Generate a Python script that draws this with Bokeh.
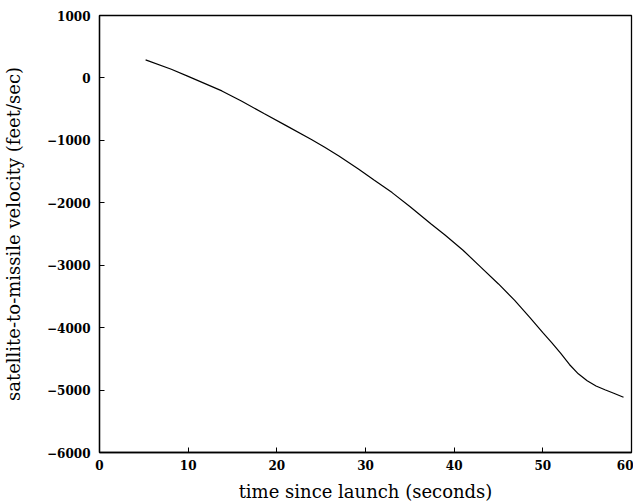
from bokeh.plotting import figure
from bokeh.models import Range1d, FixedTicker
from bokeh.embed import file_html
from bokeh.resources import INLINE

time_s = [5.2, 8.1, 10, 13.8, 16, 18.6, 21, 23.9, 25.4, 27, 29.2, 31, 33, 35, 37.4, 39, 41,
          43, 45, 46.8, 48.5, 50, 51, 52, 53, 54, 55, 56, 57, 58, 59.1]
velocity = [290, 139, 25, -208, -370, -575, -760, -985, -1110, -1250, -1458, -1640, -1837,
            -2060, -2339, -2520, -2760, -3030, -3300, -3560, -3830, -4080, -4240, -4410,
            -4590, -4740, -4850, -4935, -4995, -5050, -5115]
x_ticks = [0, 10, 20, 30, 40, 50, 60]
y_ticks = [1000, 0, -1000, -2000, -3000, -4000, -5000, -6000]

p = figure(frame_width=532, frame_height=437, output_backend="svg", toolbar_location=None,
           x_range=Range1d(0, 60), y_range=Range1d(-6000, 1000),
           min_border_left=98, min_border_top=15, min_border_right=2, min_border_bottom=48)
p.background_fill_color = "white"
p.border_fill_color = "white"
p.outline_line_color = "black"
p.outline_line_width = 1.3
p.grid.visible = False

p.line(time_s, velocity, line_color="black", line_width=1.2)

for ax, ticks in ((p.xaxis[0], x_ticks), (p.yaxis[0], y_ticks)):
    ax.ticker = FixedTicker(ticks=ticks)
    ax.major_tick_in = 5
    ax.major_tick_out = 0
    ax.minor_tick_in = 0
    ax.minor_tick_out = 0
    ax.axis_line_color = "black"
    ax.axis_line_width = 1.3
    ax.major_tick_line_color = "black"
    ax.major_label_text_font = "DejaVu Serif"
    ax.major_label_text_font_style = "bold"
    ax.major_label_text_font_size = "12px"
    ax.major_label_text_color = "black"
    ax.axis_label_text_font = "DejaVu Serif"
    ax.axis_label_text_font_style = "normal"
    ax.axis_label_text_font_size = "18px"
    ax.axis_label_text_color = "black"

p.xaxis.axis_label = "time since launch (seconds)"
p.yaxis.axis_label = "satellite-to-missile velocity (feet/sec)"
p.xaxis.major_label_standoff = 7
p.yaxis.major_label_standoff = 9
p.xaxis.axis_label_standoff = 8
p.yaxis.axis_label_standoff = 20

open("out.html", "w").write(file_html(p, INLINE))
